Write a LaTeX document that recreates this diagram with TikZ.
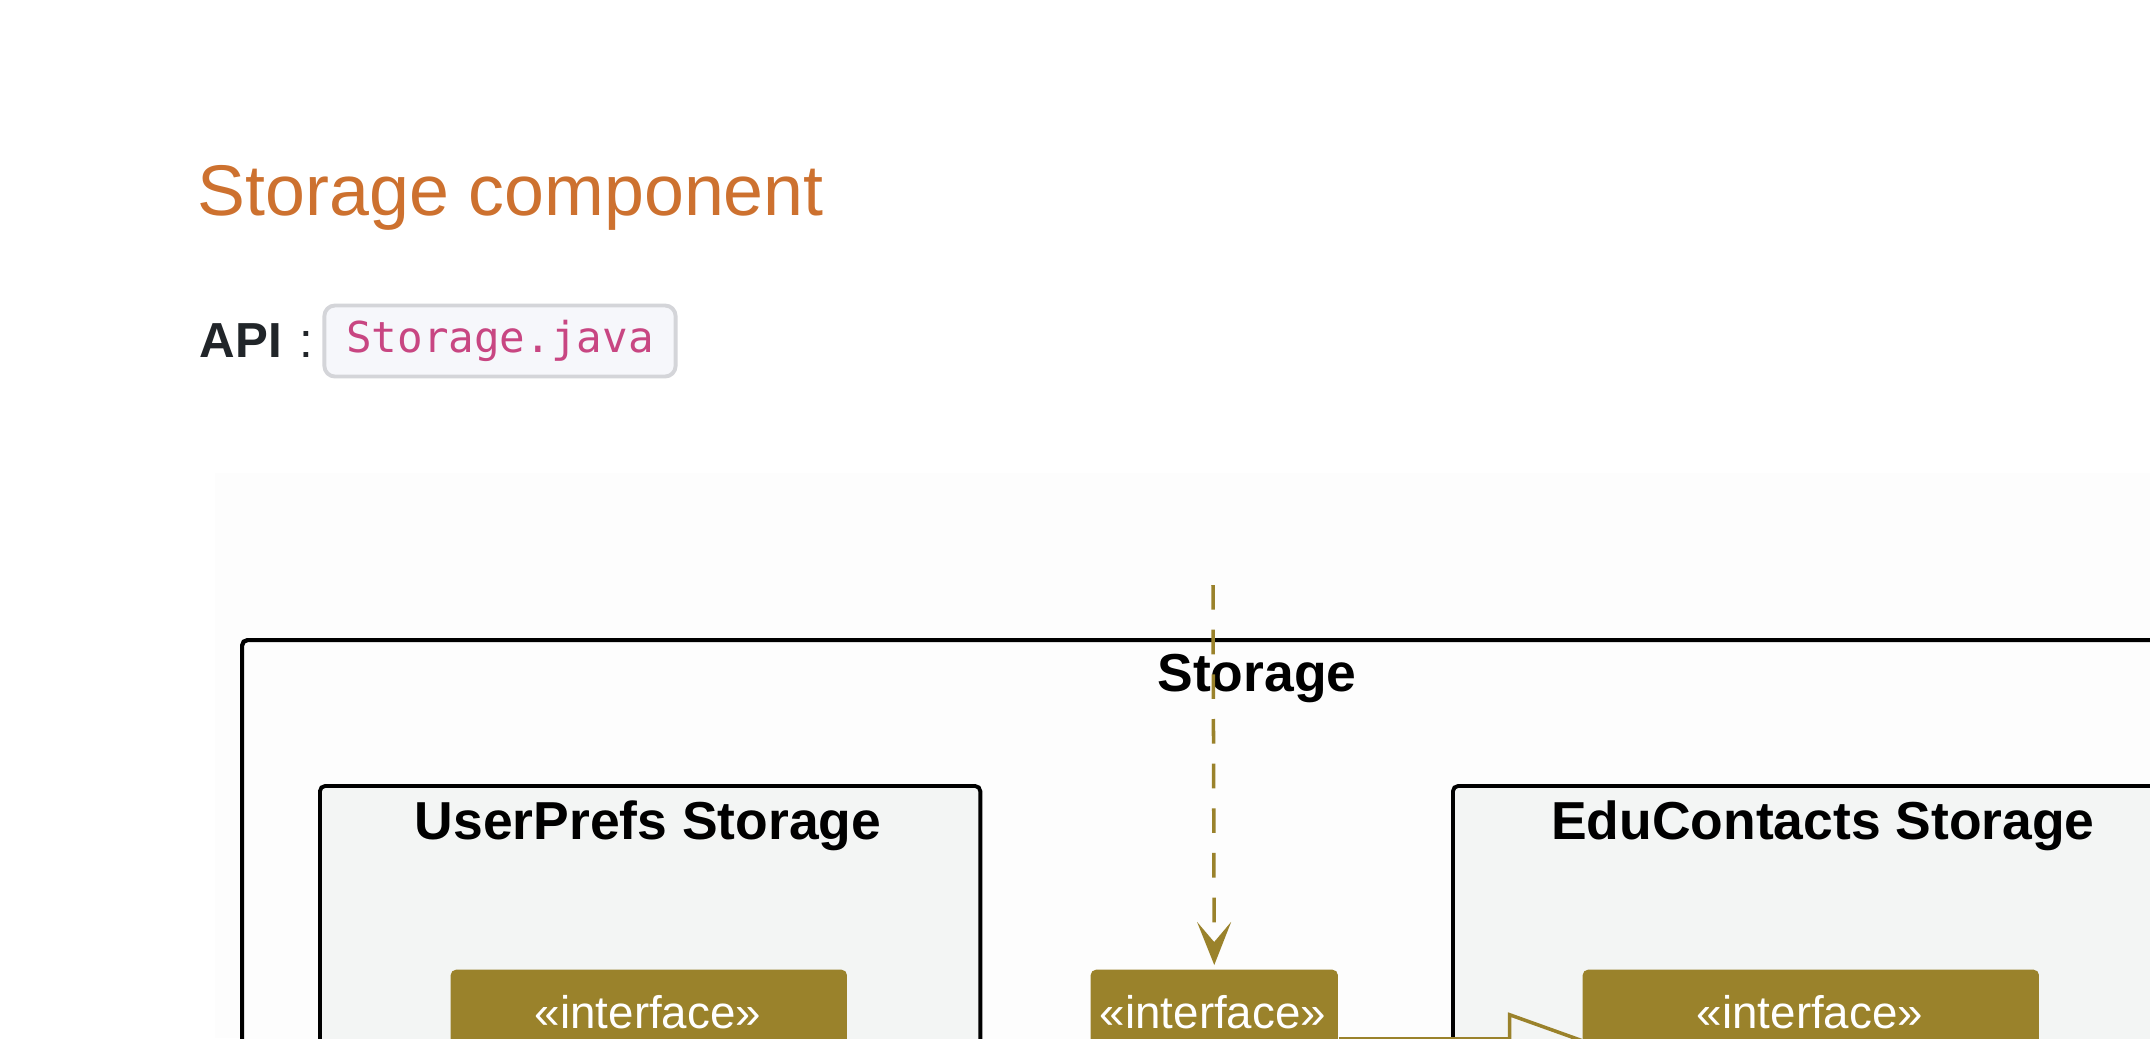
\documentclass[tikz,border=0pt]{standalone}
\usepackage{fontspec}
\setmainfont{Liberation Sans}
\setmonofont{DejaVu Sans Mono}
\usetikzlibrary{arrows.meta}

\definecolor{headorange}{RGB}{205,113,47}
\definecolor{apitext}{RGB}{33,37,41}
\definecolor{codepink}{RGB}{200,70,130}
\definecolor{codefill}{RGB}{246,247,251}
\definecolor{codeline}{RGB}{212,213,217}
\definecolor{diagbg}{RGB}{253,253,253}
\definecolor{pkgfill}{RGB}{243,245,244}
\definecolor{olive}{RGB}{154,130,43}

\begin{document}
\begin{tikzpicture}[x=0.01cm, y=-0.01cm,
        pkg/.style={draw=black, line width=1.1pt, rounded corners=1.5pt, fill=pkgfill, anchor=north west, inner sep=0pt},
        pkglabel/.style={anchor=base, inner sep=0pt, font=\fontsize{15.2}{18}\selectfont\bfseries},
        iface/.style={fill=olive, rounded corners=1.5pt, anchor=north west, inner sep=0pt, minimum height=1.38cm},
        ifacetext/.style={anchor=base, inner sep=0pt, text=white, font=\fontsize{13}{15}\selectfont},
        dep/.style={olive, line width=1pt, dash pattern=on 7pt off 5.7pt, -{Stealth[length=0.43cm, width=0.34cm, inset=0.2cm]}},
        gen/.style={olive, line width=1pt, -{Triangle[length=0.74cm, width=0.52cm, fill=pkgfill]}}]
        \useasboundingbox (0,0) rectangle (2150,1038);
        \clip (0,0) rectangle (2150,1038);
        \fill[white] (0,0) rectangle (2150,1038);

        % page heading
        \node[anchor=base west, inner sep=0pt, text=headorange, font=\fontsize{20.4}{24}\selectfont] (title) at (197,215) {Storage component};
        \node[anchor=base west, inner sep=0pt, text=apitext, font=\fontsize{14}{16}\selectfont\bfseries] (apilabel) at (199,357) {API};
        \node[anchor=base west, inner sep=0pt, text=apitext, font=\fontsize{14}{16}\selectfont] (apicolon) at (299,357) {:};
        \node[draw=codeline, line width=1.1pt, fill=codefill, rounded corners=3pt, minimum width=3.51cm, minimum height=0.71cm, inner sep=0pt, text=codepink, font=\ttfamily\fontsize{12.1}{14}\selectfont] (apifile) at (500,341) {Storage.java};

        % diagram
        \fill[diagbg] (215,473) rectangle (2150,1038);
        \node[pkg, fill=diagbg, line width=1.2pt, minimum width=20cm, minimum height=6cm] (storage) at (240,638) {};
        \node[pkglabel] (storagelabel) at (1257,691) {Storage};

        \node[pkg, minimum width=6.6cm, minimum height=4cm] (userprefs) at (318,784) {};
        \node[pkglabel] (userprefslabel) at (648,839) {UserPrefs Storage};
        \node[pkg, minimum width=10cm, minimum height=4cm] (educontacts) at (1451,784) {};
        \node[pkglabel] (educontactslabel) at (1823,839) {EduContacts Storage};

        \node[iface, minimum width=3.96cm] (userprefsif) at (450,969) {};
        \node[ifacetext] at (648,1028) {«interface»};
        \node[iface, minimum width=2.47cm] (storageif) at (1090,969) {};
        \node[ifacetext] at (1213,1028) {«interface»};
        \node[iface, minimum width=4.56cm] (educontactsif) at (1582,969) {};
        \node[ifacetext] at (1810,1028) {«interface»};

        \coordinate (entry) at (1213,585);
        \draw[dep, shorten >=0.04cm] (entry) -- (storageif.north);
        \draw[gen] (storageif.east) -- (educontactsif.west);
\end{tikzpicture}
\end{document}
